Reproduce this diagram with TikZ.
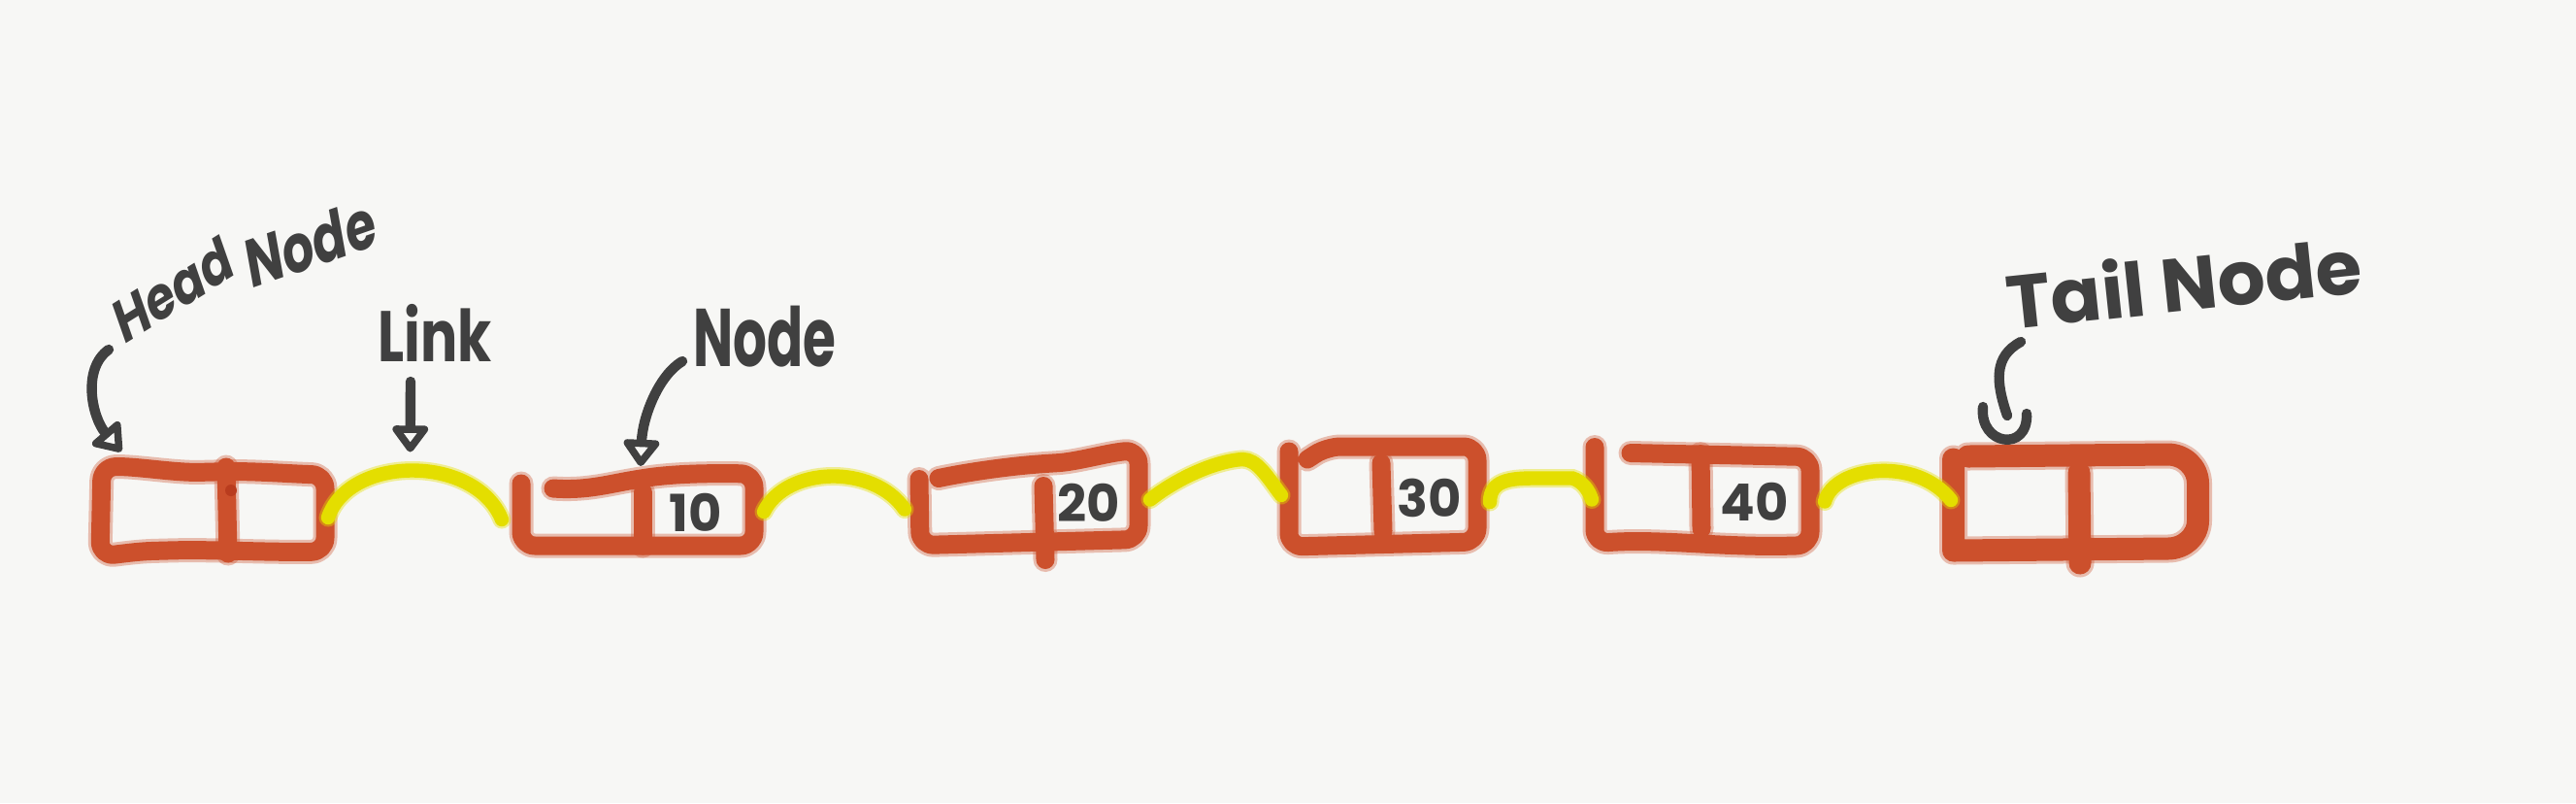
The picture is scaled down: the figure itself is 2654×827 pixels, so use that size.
\documentclass[tikz,border=0pt]{standalone}
\usepackage{fontspec}
\setmainfont{Poppins}
\usetikzlibrary{arrows.meta,calc}
\definecolor{bg}{RGB}{247,247,245}
\definecolor{pen}{RGB}{204,80,44}
\definecolor{penDark}{RGB}{185,60,30}
\definecolor{hl}{RGB}{228,222,0}
\definecolor{ink}{RGB}{64,64,64}
\tikzset{
  box/.style={draw=none, inner sep=0pt, outer sep=0pt},
  redpen/.style={preaction={draw=pen, opacity=0.35, line width=1.25mm, line cap=round, line join=round}, draw=pen, line width=0.95mm, line cap=round, line join=round, rounded corners=2pt},
  tailpen/.style={preaction={draw=pen, opacity=0.35, line width=1.45mm, line cap=round, line join=round}, draw=pen, line width=1.15mm, line cap=round, line join=round},
  linkpen/.style={preaction={draw=hl, opacity=0.4, line width=0.95mm, line cap=round}, draw=hl, line width=0.72mm, line cap=round},
  inkpen/.style={draw=ink, line width=0.52mm, line cap=round, line join=round},
  tipU/.style={-{Triangle[open,round,length=1.5mm,width=2.1mm]}},
  lbl/.style={text=ink, inner sep=0pt, font=\bfseries\fontsize{#1}{#1}\selectfont},
  num/.style={text=ink, inner sep=0pt, font=\bfseries\fontsize{7.5}{7.5}\selectfont}
}
\begin{document}
\begin{tikzpicture}[x=0.05mm, y=-0.05mm]
\fill[bg] (0,0) rectangle (2654,827);
\useasboundingbox (0,0) rectangle (2654,827);

% ---------- list nodes ----------
\node[box, minimum width=11.5mm, minimum height=4.5mm] (head) at (220,526) {};
\node[box, minimum width=12mm, minimum height=3.5mm] (n10) at (657,527) {};
\node[box, minimum width=11.3mm, minimum height=4.35mm] (n20) at (1060,513.5) {};
\node[box, minimum width=9.7mm, minimum height=5mm] (n30) at (1425,510) {};
\node[box, minimum width=11.1mm, minimum height=4.75mm] (n40) at (1754,514.5) {};
\node[box, minimum width=12.65mm, minimum height=4.9mm] (tail) at (2138.5,518) {};

% head
\begin{scope}[shift={(head.center)}]
  \draw[redpen] (-115,-45) .. controls (-80,-46) and (-40,-39) .. (0,-40)
     .. controls (40,-41) and (80,-38) .. (115,-37) -- (115,42)
     .. controls (60,43) and (0,40) .. (-50,41)
     .. controls (-80,42) and (-100,45) .. (-117,46) -- cycle;
  \draw[redpen] (13,-45) -- (15,44);
  \fill[penDark] (18,-21) circle[radius=0.3mm];
\end{scope}

% node 10
\begin{scope}[shift={(n10.center)}]
  \draw[redpen] (-120,-29) -- (-120,35) -- (120,35) -- (120,-39)
     .. controls (60,-40) and (30,-38) .. (-4,-33)
     .. controls (-40,-26) and (-60,-22) .. (-87,-24);
  \draw[redpen] (5,-20) -- (5,35);
  \node[num] (v10) at (60,1) {10};
\end{scope}

% node 20
\begin{scope}[shift={(n20.center)}]
  \draw[redpen] (-113,-20) -- (-112,48) -- (113,42) -- (113,-50)
     .. controls (80,-47) and (50,-38) .. (15,-36)
     .. controls (-20,-33) and (-60,-28) .. (-93,-21);
  \draw[redpen] (15,-13) -- (17,63);
  \node[num] (v20) at (62,4) {20};
\end{scope}

% node 30
\begin{scope}[shift={(n30.center)}]
  \draw[redpen] (-97,-45) -- (-97,53) -- (97,48) -- (97,-50) -- (-58,-50) -- (-78,-37);
  \draw[redpen] (-2,-33) -- (0,37);
  \node[num] (v30) at (48,3) {30};
\end{scope}

% node 40
\begin{scope}[shift={(n40.center)}]
  \draw[redpen] (-111,-54) -- (-111,45)
     .. controls (-40,40) and (20,50) .. (111,47) -- (111,-44) -- (-74,-48);
  \draw[redpen] (-2,-47) -- (-1,30);
  \node[num] (v40) at (54,2) {40};
\end{scope}

% tail
\begin{scope}[shift={(tail.center)}]
  \draw[tailpen]
     (-111,-48) -- (95,-50) to[out=0,in=90] (126,-20) -- (126,18) to[out=-90,in=0] (95,47) -- (-126,49) -- (-126,-45);
  \draw[tailpen] (3.5,-31) -- (4.5,62);
\end{scope}

% ---------- links ----------
\draw[linkpen] ($(head.east)+(3,7)$) .. controls +(22,-65) and +(-27,-67) .. ($(n10.west)+(-20,8)$) coordinate[pos=0.5] (l1mid);
\draw[linkpen] ($(n10.east)+(10,0)$) .. controls +(23,-47) and +(-32,-47) .. ($(n20.west)+(-15,11)$);
\draw[linkpen] ($(n20.east)+(12,1)$) .. controls +(25,-20) and +(-30,2) .. ($(n30.west)+(-48,-37)$)
     .. controls +(15,0) and +(-15,-20) .. ($(n30.west)+(-8,0)$);
\draw[linkpen] ($(n30.east)+(13,7)$) .. controls +(0,-22) and +(-25,0) .. ($(n40.west)+(-63,-22)$)
     -- ($(n40.west)+(-23,-22)$) .. controls +(10,3) and +(-3,-10) .. ($(n40.west)+(-3,0)$);
\draw[linkpen] ($(n40.east)+(15,2)$) .. controls +(10,-37) and +(-35,-45) .. ($(tail.west)+(-2,-3)$);

% ---------- labels ----------
\node[lbl=9, xscale=0.75, rotate=25] (headword) at (178,298) {Head};
\node[lbl=10, xscale=0.72, rotate=14] (headnode) at (320,250) {Node};
\node[lbl=10.5, xscale=0.77] (linklabel) at (448,343) {Link};
\node[lbl=12, xscale=0.65] (nodelabel) at (788,347) {Node};
\node[lbl=11, rotate=6] (taillabel) at (2250,290) {Tail Node};

% ---------- pointer arrows ----------
\draw[inkpen, tipU] ($(headword.center)+(-66,62)$) .. controls +(-28,20) and +(-30,-35) .. ($(head.north west)+(20,-16)$);
\draw[inkpen, tipU] ($(linklabel.center)+(-25,50)$) -- ($(l1mid)+(-3,-19)$);
\draw[inkpen, tipU] ($(nodelabel.center)+(-85,25)$) .. controls +(-25,15) and +(2,-50) .. ($(n10.north west)+(123,-12)$);
\coordinate (tailtip) at ($(tail.north west)+(56,-41)$);
\draw[inkpen] ($(taillabel.center)+(-168,62)$) .. controls +(-28,15) and +(-12,-35) .. (tailtip);
\draw[inkpen] ($(tailtip)+(-25,-9)$) .. controls +(-4,40) and +(2,40) .. ($(tailtip)+(20,-2)$);
\end{tikzpicture}
\end{document}
